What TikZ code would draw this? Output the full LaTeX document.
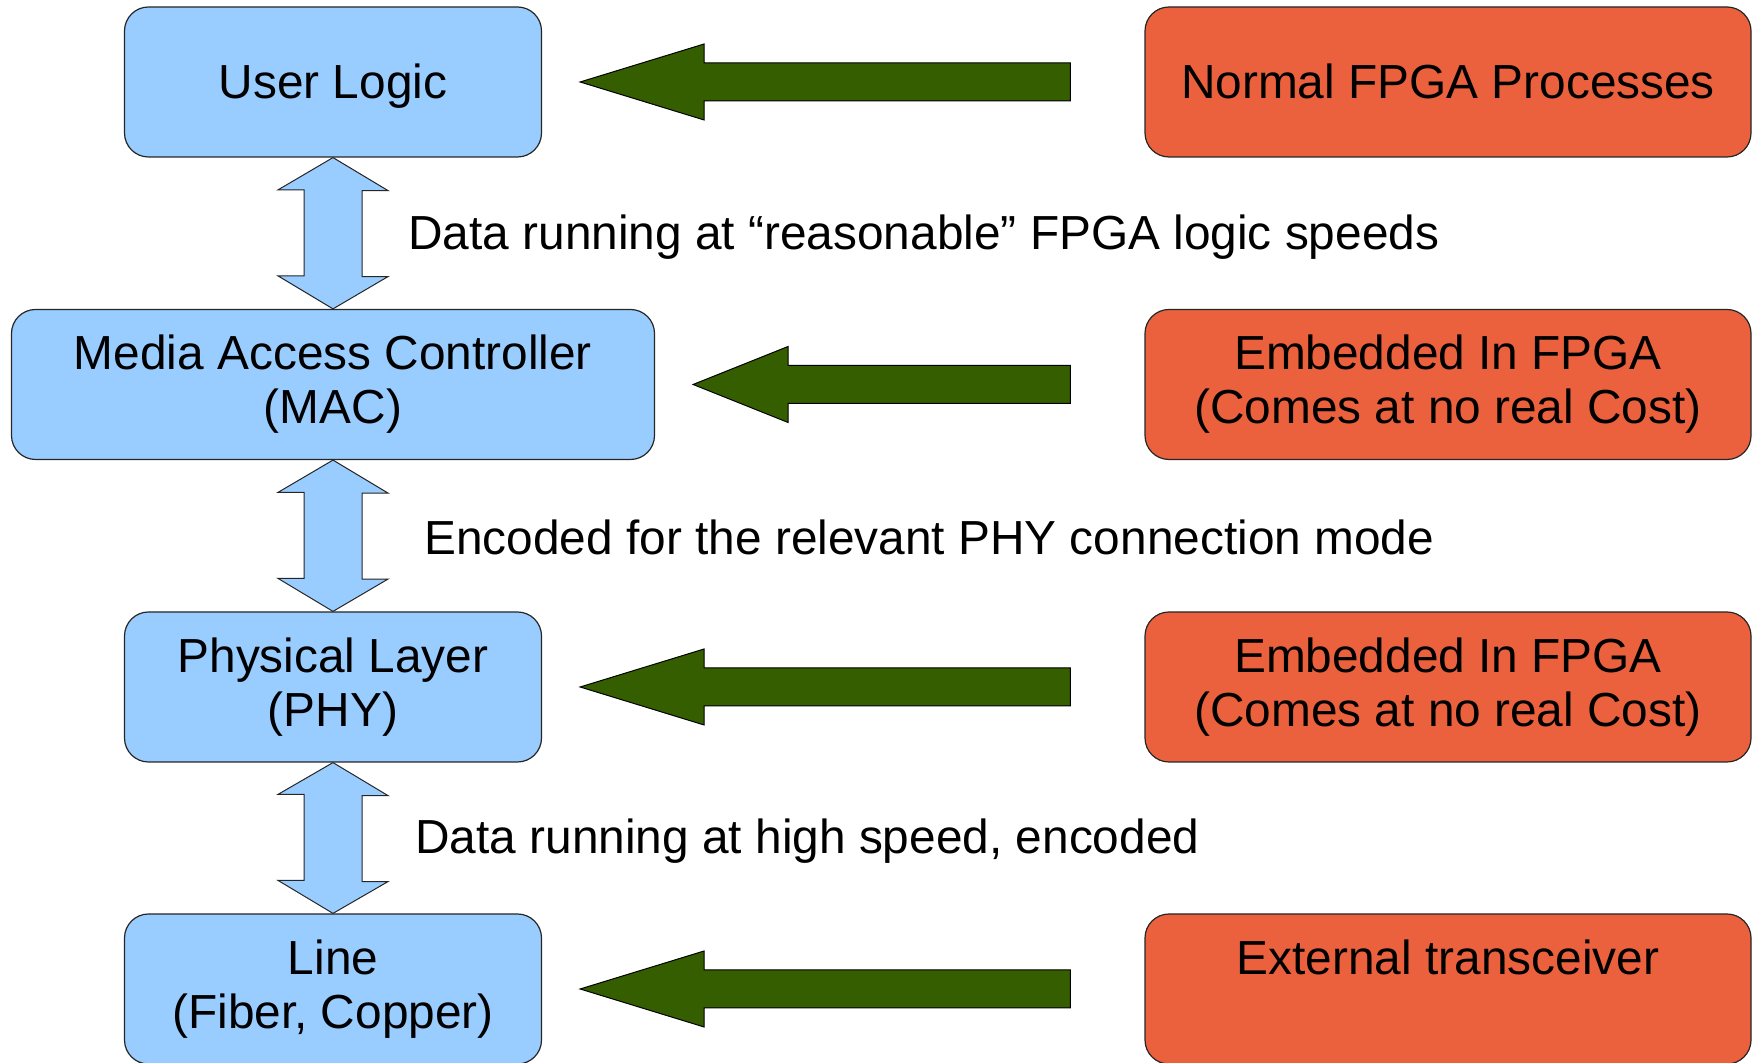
\documentclass[tikz,border=0pt]{standalone}
\usepackage{fontspec}
\setmainfont{Liberation Sans}
\usetikzlibrary{calc}
\definecolor{layerblue}{HTML}{99CCFF}
\definecolor{costorange}{HTML}{EB613D}
\definecolor{pushgreen}{HTML}{355E00}

\begin{document}
\begin{tikzpicture}[x=0.5pt,y=0.5pt,
  lyr/.style={draw=black!85,line width=0.6pt,rounded corners=12pt,minimum height=75pt,inner sep=0pt,align=center,font=\fontsize{23.9}{27}\selectfont,execute at begin node={\rule[-5pt]{0pt}{26.5pt}}},
  note/.style={anchor=west,inner sep=0pt,font=\fontsize{23.9}{27}\selectfont},
  updown/.style={draw=black!85,line width=0.5pt,fill=layerblue},
  pusharrow/.style={draw=black,line width=0.5pt,fill=pushgreen}]
\useasboundingbox (0,0) rectangle (1755,1063);
% layers on the left
\foreach \n/\y/\w/\txt in %
{1/981/208.5/User Logic,2/678.5/321.5/{Media Access Controller\\(MAC)},3/376/208.5/{Physical Layer\\(PHY)},4/74/208.5/{Line\\(Fiber, Copper)}} {
   \node[lyr,fill=layerblue,minimum width=\w pt] (b\n) at (333,\y) {\txt};
}
% where each layer comes from
\foreach \n/\y/\txt in %
{1/981/Normal FPGA Processes,2/678.5/{Embedded In FPGA\\(Comes at no real Cost)},3/376/{Embedded In FPGA\\(Comes at no real Cost)},4/74/{External transceiver\\\rule[-4pt]{0pt}{0pt}}} {
   \node[lyr,fill=costorange,minimum width=303pt] (o\n) at (1448,\y) {\txt};
}
\foreach \n/\h in {1/124,2/95,3/124,4/124} {
   \draw[pusharrow] ($(b\n.east)+(38,0)$) coordinate (t) -- ++(\h,38) -- ++(0,-19)
      -| ($(o\n.west)+(-74,-19)$) -- ($(t)+(\h,-19)$) -- ++(0,-19) -- cycle;
}
\foreach \a/\b in {1/2,2/3,3/4} {
   \draw[updown] (b\a.south) -- ++(55,-33) -- ++(-26,0) -- ++(0,-86) -- ++(26,0)
      -- (b\b.north) -- ++(-55,33) -- ++(26,0) -- ++(0,86) -- ++(-26,0) -- cycle;
}
\node[note] (d1) at (408,826) {Data running at “reasonable” FPGA logic speeds};
\node[note] (d2) at (424,526) {Encoded for the relevant PHY connection mode};
\node[note] (d3) at (415,222) {Data running at high speed, encoded};
\end{tikzpicture}
\end{document}
